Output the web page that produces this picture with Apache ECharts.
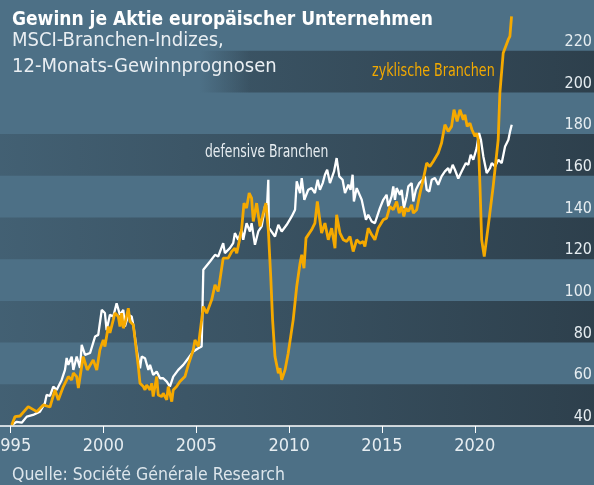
<!DOCTYPE html>
<html>
<head>
<meta charset="utf-8">
<script src="https://cdn.jsdelivr.net/npm/echarts@6/dist/echarts.min.js"></script>
<style>
  html, body { margin: 0; padding: 0; background: #4d7086; }
  #chart { width: 594px; height: 485px; }
</style>
</head>
<body>
<div id="chart"></div>
<script>
// Jahreswerte (Dezimaljahr) und Indexwerte
const defensiveYears = [1995.06, 1995.33, 1995.60, 1995.87, 1996.21, 1996.58, 1996.85, 1996.94, 1997.12, 1997.30, 1997.48, 1997.75, 1997.93, 1998.02, 1998.11, 1998.29, 1998.38, 1998.56, 1998.74, 1998.83, 1999.01, 1999.28, 1999.55, 1999.72, 1999.81, 1999.91, 1999.99, 2000.08, 2000.17, 2000.35, 2000.53, 2000.71, 2000.89, 2001.07, 2001.16, 2001.34, 2001.52, 2001.61, 2001.79, 2001.97, 2002.06, 2002.24, 2002.42, 2002.51, 2002.68, 2002.87, 2003.05, 2003.22, 2003.41, 2003.58, 2003.76, 2004.03, 2004.30, 2004.57, 2004.84, 2005.11, 2005.29, 2005.38, 2005.74, 2006.01, 2006.18, 2006.45, 2006.54, 2006.81, 2006.99, 2007.08, 2007.26, 2007.44, 2007.53, 2007.71, 2007.89, 2007.98, 2008.16, 2008.34, 2008.52, 2008.70, 2008.82, 2008.88, 2008.91, 2009.24, 2009.42, 2009.60, 2009.87, 2010.14, 2010.32, 2010.41, 2010.59, 2010.68, 2010.82, 2011.03, 2011.21, 2011.39, 2011.54, 2011.66, 2011.81, 2011.93, 2012.05, 2012.20, 2012.42, 2012.56, 2012.70, 2012.88, 2013.01, 2013.19, 2013.31, 2013.42, 2013.49, 2013.64, 2013.91, 2014.14, 2014.26, 2014.45, 2014.62, 2014.89, 2015.07, 2015.25, 2015.34, 2015.52, 2015.61, 2015.70, 2015.79, 2015.97, 2016.06, 2016.18, 2016.33, 2016.42, 2016.60, 2016.69, 2016.83, 2017.01, 2017.19, 2017.31, 2017.41, 2017.55, 2017.68, 2017.85, 2018.03, 2018.21, 2018.39, 2018.57, 2018.66, 2018.81, 2018.93, 2019.11, 2019.29, 2019.52, 2019.65, 2019.78, 2019.92, 2020.10, 2020.23, 2020.33, 2020.46, 2020.64, 2020.82, 2020.91, 2021.09, 2021.27, 2021.45, 2021.63, 2021.81, 2021.90, 2021.99];
const defensiveValues = [40.5, 42, 41.6, 44.5, 45.3, 46.9, 51, 54.9, 54.4, 58.9, 57.3, 62.1, 66.9, 72.6, 69.3, 73.3, 66.9, 73.3, 67.8, 78.9, 74.1, 75, 82.9, 83.7, 89.4, 95.7, 96.5, 94.2, 86, 93.3, 92.5, 98.9, 93.3, 95.7, 87.7, 93.3, 92.5, 88.5, 76.5, 67.7, 73.3, 72.5, 66.9, 69.3, 64.5, 66.1, 62.9, 62.9, 61.3, 58.9, 63.7, 66.9, 69.3, 72.5, 75.7, 77.3, 78.1, 114.9, 118.9, 122.1, 121.3, 127.7, 122.9, 125.3, 127.7, 132.5, 129.3, 134.1, 129.3, 137.3, 133.3, 137.3, 126.9, 133.3, 135.7, 145.3, 146.9, 158.1, 135, 130.9, 136.5, 133.3, 136.5, 140.5, 143.7, 157.3, 151.7, 158.9, 148.5, 153.3, 154.1, 151.7, 158.1, 153.3, 156.5, 160.5, 162.9, 156.5, 162.1, 168.5, 159.7, 158.1, 151.7, 155.7, 153.3, 160.5, 147.7, 154.1, 148.5, 138.9, 141.3, 138.1, 137.3, 144.5, 148.5, 150.9, 145.3, 150.1, 154.9, 148.5, 154.1, 150.9, 153.3, 144.5, 150.1, 154.9, 156.5, 147.7, 153.3, 156.5, 158.1, 159.7, 153.3, 152.5, 158.1, 158.9, 155.7, 159.7, 162.1, 163.7, 161.3, 165.3, 162.9, 158.7, 162.1, 166.1, 165.3, 170.1, 167.7, 173.3, 180.5, 177.3, 169.3, 161.3, 163.7, 166.1, 164.5, 167.7, 166.1, 174.1, 177.3, 181.3, 184.5];

const cyclicalYears = [1995.06, 1995.24, 1995.51, 1995.95, 1996.41, 1996.76, 1997.12, 1997.39, 1997.57, 1997.84, 1998.11, 1998.29, 1998.38, 1998.56, 1998.65, 1998.91, 1999.13, 1999.45, 1999.64, 1999.81, 1999.99, 2000.08, 2000.26, 2000.35, 2000.53, 2000.62, 2000.80, 2000.89, 2000.98, 2001.07, 2001.16, 2001.34, 2001.43, 2001.61, 2001.75, 2001.88, 2001.97, 2002.15, 2002.24, 2002.33, 2002.51, 2002.60, 2002.68, 2002.87, 2002.95, 2003.14, 2003.22, 2003.41, 2003.49, 2003.68, 2003.76, 2003.94, 2004.12, 2004.39, 2004.57, 2004.84, 2004.93, 2005.11, 2005.20, 2005.38, 2005.56, 2005.83, 2006.01, 2006.18, 2006.45, 2006.72, 2006.91, 2007.08, 2007.18, 2007.35, 2007.44, 2007.57, 2007.71, 2007.85, 2007.98, 2008.07, 2008.25, 2008.43, 2008.61, 2008.75, 2008.88, 2009.01, 2009.11, 2009.24, 2009.42, 2009.51, 2009.60, 2009.78, 2009.95, 2010.22, 2010.41, 2010.59, 2010.68, 2010.80, 2010.91, 2011.21, 2011.39, 2011.52, 2011.75, 2011.93, 2012.11, 2012.29, 2012.47, 2012.56, 2012.74, 2012.92, 2013.10, 2013.28, 2013.45, 2013.64, 2013.82, 2013.99, 2014.08, 2014.26, 2014.45, 2014.62, 2014.80, 2015.07, 2015.25, 2015.43, 2015.61, 2015.79, 2015.93, 2016.06, 2016.18, 2016.29, 2016.42, 2016.60, 2016.69, 2016.87, 2017.05, 2017.22, 2017.41, 2017.58, 2017.76, 2018.03, 2018.21, 2018.39, 2018.57, 2018.75, 2018.88, 2019.05, 2019.20, 2019.38, 2019.47, 2019.59, 2019.74, 2019.85, 2020.01, 2020.10, 2020.19, 2020.28, 2020.37, 2020.51, 2020.72, 2020.99, 2021.26, 2021.35, 2021.53, 2021.80, 2021.89, 2021.98];
const cyclicalValues = [40.5, 44.5, 44.8, 49.3, 46.9, 50.1, 49.1, 57.3, 52.5, 58.9, 63.7, 62.1, 65.4, 63.7, 58.2, 73.3, 66.9, 71.7, 66.9, 76.5, 81.3, 78.1, 87.7, 84.6, 90.9, 94.2, 92.5, 87.7, 94.1, 86.9, 89.3, 96.5, 90.1, 88.5, 78.1, 68.5, 60.5, 58.9, 57.3, 59.7, 57.3, 60.5, 54.1, 63.7, 54.9, 54.1, 55.7, 52.5, 58.9, 51.7, 57.3, 58.9, 61.3, 63.7, 69.3, 76.5, 81.3, 78.1, 84.6, 97.3, 94.1, 100.5, 107.7, 104.5, 120.5, 120.5, 123.7, 125.3, 122.9, 130.1, 134.1, 146.9, 144.5, 151.7, 149.3, 138.1, 146.9, 135.7, 142.1, 146.9, 134.1, 111.7, 90.9, 73.3, 65.3, 67.7, 62.1, 66.9, 74.9, 90.9, 106.9, 118.1, 122.1, 115.7, 130.1, 134.1, 137.3, 147.7, 132.5, 137.3, 129.3, 134.9, 125.3, 141.3, 132.5, 129.3, 128.5, 130.9, 123.7, 129.3, 127.7, 128.5, 126.1, 134.9, 131.7, 129.3, 134.9, 138.9, 139.7, 145.3, 143.7, 147.7, 142.1, 145.3, 140.5, 144.5, 142.9, 146.1, 142.1, 143.7, 151.7, 158.1, 166.1, 164.5, 166.9, 170.9, 175.7, 184.5, 181.3, 183.7, 191.7, 186.1, 191.7, 186.9, 189.3, 183.7, 185.3, 182.1, 178.9, 180.5, 177.3, 154.9, 129.3, 121.3, 135.7, 154.9, 177.3, 199.7, 218.9, 225.3, 226.9, 236.5];

const yearTicks = [1995, 2000, 2005, 2010, 2015, 2020];

const condensed = '"DejaVu Sans Condensed", "DejaVu Sans", sans-serif';
const bg = '#4d7086';

const chart = echarts.init(document.getElementById('chart'));

// dunkle Streifen werden nach rechts kräftiger
const bandDark = new echarts.graphic.LinearGradient(0, 0, 1, 0, [
  { offset: 0, color: 'rgba(30,40,48,0.22)' },
  { offset: 1, color: 'rgba(30,40,48,0.67)' }
]);

chart.setOption({
  backgroundColor: bg,
  animation: false,
  grid: { left: 0, right: 0, top: 9, bottom: 59, containLabel: false, outerBoundsMode: 'none' },
  xAxis: {
    type: 'value',
    min: 1994.43,
    max: 2026.42,
    axisLine: { show: true, lineStyle: { color: '#ffffff', width: 1.5 } },
    axisTick: { show: true, customValues: yearTicks, length: 7, lineStyle: { color: '#ffffff', width: 1 } },
    axisLabel: {
      customValues: yearTicks,
      color: '#e6edf1',
      fontSize: 18,
      fontFamily: condensed,
      margin: 11,
      formatter: v => String(v)
    },
    splitLine: { show: false }
  },
  yAxis: {
    type: 'value',
    position: 'right',
    min: 40,
    max: 240,
    interval: 20,
    axisLine: { show: false },
    axisTick: { show: false },
    axisLabel: {
      inside: true,
      margin: 2,
      verticalAlign: 'bottom',
      color: '#e6edf1',
      fontSize: 16,
      fontFamily: condensed,
      showMaxLabel: false,
      lineHeight: 16,
      padding: [0, 0, 1, 0]
    },
    splitLine: { show: false },
    splitArea: { show: true, areaStyle: { color: [bandDark, 'rgba(0,0,0,0)'] } }
  },
  series: [
    {
      name: 'defensive Branchen',
      type: 'line',
      data: defensiveYears.map((y, i) => [y, defensiveValues[i]]),
      showSymbol: false,
      lineStyle: { color: '#ffffff', width: 2.3 },
      z: 3
    },
    {
      name: 'zyklische Branchen',
      type: 'line',
      data: cyclicalYears.map((y, i) => [y, cyclicalValues[i]]),
      showSymbol: false,
      lineStyle: { color: '#f5a900', width: 2.8 },
      z: 4
    }
  ],
  graphic: [
    {
      // heller Hintergrund hinter dem Titelblock
      type: 'rect', left: 0, top: 45, z: 50,
      shape: { width: 250, height: 50 },
      style: {
        fill: new echarts.graphic.LinearGradient(0, 0, 1, 0, [
          { offset: 0, color: bg },
          { offset: 0.8, color: bg },
          { offset: 1, color: 'rgba(77,112,134,0)' }
        ])
      }
    },
    {
      type: 'text', left: 12, top: 11, z: 100,
      style: { text: 'Gewinn je Aktie europäischer Unternehmen', fill: '#ffffff', font: 'bold 19px ' + condensed }
    },
    {
      type: 'text', left: 12, top: 28, z: 100,
      style: { text: 'MSCI-Branchen-Indizes,\n12-Monats-Gewinnprognosen', fill: '#e9eef2', font: '20px ' + condensed, lineHeight: 26 }
    },
    {
      type: 'text', x: 205, y: 144, z: 100, scaleX: 0.81,
      style: { text: 'defensive Branchen', fill: '#e6ecf0', font: '17px ' + condensed }
    },
    {
      type: 'text', x: 372, y: 63, z: 100, scaleX: 0.83,
      style: { text: 'zyklische Branchen', fill: '#f2a900', font: '17px ' + condensed }
    },
    {
      type: 'text', left: 12, top: 466, z: 100,
      style: { text: 'Quelle: Société Générale Research', fill: '#dde6ec', font: '17.5px ' + condensed }
    }
  ]
});
</script>
</body>
</html>
